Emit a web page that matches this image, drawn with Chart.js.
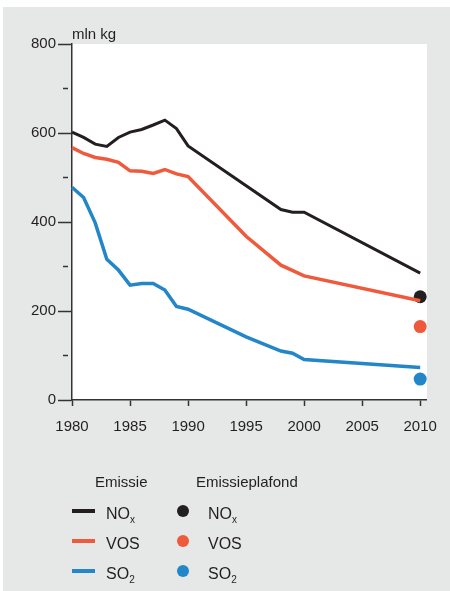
<!DOCTYPE html>
<html>
<head>
<meta charset="utf-8">
<script src="https://cdn.jsdelivr.net/npm/chart.js@4"></script>
<style>
  body { margin: 0; background: #fff; font-family: "Liberation Sans", Arial, sans-serif; color: #231f20; }
  #wrap { position: relative; width: 450px; height: 591px; }
  #legend div { position: absolute; line-height: 15px; white-space: nowrap; }
  .hd { font-size: 15px; }
  .tx { font-size: 16px; }
  .tx sub { font-size: 10px; vertical-align: -4px; }
  .ln { height: 4px; width: 23px; }
  .dt { width: 12px; height: 12px; border-radius: 50%; }
</style>
</head>
<body>
<div id="wrap">
  <canvas id="chart"></canvas>
  <div id="legend">
    <div class="hd" style="left:95px;top:474px">Emissie</div>
    <div class="hd" style="left:196px;top:474px">Emissieplafond</div>

    <div class="ln" style="left:72px;top:509px;background:#231f20"></div>
    <div class="tx" style="left:106px;top:506px">NO<sub>x</sub></div>
    <div class="dt" style="left:177px;top:505px;background:#231f20"></div>
    <div class="tx" style="left:208px;top:506px">NO<sub>x</sub></div>

    <div class="ln" style="left:72px;top:539px;background:#f05a3c"></div>
    <div class="tx" style="left:106px;top:536px">VOS</div>
    <div class="dt" style="left:177px;top:535px;background:#f05a3c"></div>
    <div class="tx" style="left:208px;top:536px">VOS</div>

    <div class="ln" style="left:72px;top:569px;background:#2386c8"></div>
    <div class="tx" style="left:106px;top:566px">SO<sub>2</sub></div>
    <div class="dt" style="left:177px;top:565px;background:#2386c8"></div>
    <div class="tx" style="left:208px;top:566px">SO<sub>2</sub></div>
  </div>
</div>
<script>
const noxYears = [1980, 1981, 1982, 1983, 1984, 1985, 1986, 1987, 1988, 1989, 1990, 1998, 1999, 2000, 2010];
const noxValues = [602, 590, 575, 570, 590, 602, 608, 618, 629, 610, 571, 428, 422, 422, 285];

const vosYears = [1980, 1981, 1982, 1983, 1984, 1985, 1986, 1987, 1988, 1989, 1990, 1995, 1998, 2000, 2010];
const vosValues = [567, 554, 545, 541, 534, 515, 514, 509, 518, 508, 502, 368, 303, 279, 223];

const so2Years = [1980, 1981, 1982, 1983, 1984, 1985, 1986, 1987, 1988, 1989, 1990, 1995, 1998, 1999, 2000, 2010];
const so2Values = [478, 455, 398, 316, 292, 258, 262, 262, 247, 210, 204, 142, 110, 105, 91, 73];

const ceilingYear = 2010;
const ceilingValues = [232, 165, 47]; // NOx, VOS, SO2

const yMinorTicks = [100, 300, 500, 700];

const black = "#231f20";
const red = "#f05a3c";
const blue = "#2386c8";
const axisColor = "#333333";

function pts(xs, ys) {
  return xs.map((x, i) => ({ x: x, y: ys[i] }));
}

const panel = {
  id: "panel",
  beforeDraw(chart) {
    const ctx = chart.ctx;
    const a = chart.chartArea;
    ctx.save();
    ctx.fillStyle = "#e6e7e7";
    ctx.fillRect(3, 7, 447, 584);
    ctx.fillStyle = "#ffffff";
    ctx.fillRect(a.left, a.top, 427 - a.left, a.bottom - a.top);
    ctx.restore();
  },
  afterDraw(chart) {
    const ctx = chart.ctx;
    const y = chart.scales.y;
    ctx.save();
    ctx.strokeStyle = axisColor;
    ctx.lineWidth = 1.5;
    yMinorTicks.forEach((v) => {
      const py = y.getPixelForValue(v);
      ctx.beginPath();
      ctx.moveTo(y.right - 9, py);
      ctx.lineTo(y.right - 4, py);
      ctx.stroke();
    });
    ctx.fillStyle = black;
    ctx.font = '15px "Liberation Sans", Arial, sans-serif';
    ctx.textBaseline = "alphabetic";
    ctx.fillText("mln kg", chart.chartArea.left, 39);
    ctx.restore();
  },
};

new Chart(document.getElementById("chart"), {
  type: "line",
  data: {
    datasets: [
      { data: pts(noxYears, noxValues), borderColor: black, borderWidth: 3, pointRadius: 0 },
      { data: pts(vosYears, vosValues), borderColor: red, borderWidth: 3.5, pointRadius: 0 },
      { data: pts(so2Years, so2Values), borderColor: blue, borderWidth: 3.5, pointRadius: 0 },
      {
        data: ceilingValues.map((v) => ({ x: ceilingYear, y: v })),
        showLine: false,
        pointRadius: 6.5,
        pointBorderWidth: 0,
        pointBackgroundColor: [black, red, blue],
        pointHoverRadius: 6.5,
      },
    ],
  },
  options: {
    responsive: true,
    maintainAspectRatio: false,
    animation: false,
    clip: false,
    layout: { padding: { left: 0, top: 44, right: 24, bottom: 151 } },
    plugins: { legend: { display: false }, tooltip: { enabled: false } },
    scales: {
      x: {
        type: "linear",
        min: 1980,
        max: 2010.5,
        afterFit: (s) => { s.height = 40; },
        border: { display: true, color: axisColor, width: 1.5 },
        grid: { drawOnChartArea: false, drawTicks: true, tickLength: 6, tickColor: axisColor, tickWidth: 1.5 },
        ticks: {
          stepSize: 5,
          includeBounds: false,
          padding: 12,
          color: black,
          font: { family: '"Liberation Sans", Arial, sans-serif', size: 15 },
          callback: (v) => String(v),
        },
      },
      y: {
        min: 0,
        max: 800,
        afterFit: (s) => { s.width = 72; },
        border: { display: true, color: axisColor, width: 1.5 },
        grid: { drawOnChartArea: false, drawTicks: true, tickLength: 14, tickColor: axisColor, tickWidth: 1.5 },
        ticks: {
          stepSize: 200,
          padding: 2,
          color: black,
          font: { family: '"Liberation Sans", Arial, sans-serif', size: 15 },
        },
      },
    },
  },
  plugins: [panel],
});
</script>
</body>
</html>
